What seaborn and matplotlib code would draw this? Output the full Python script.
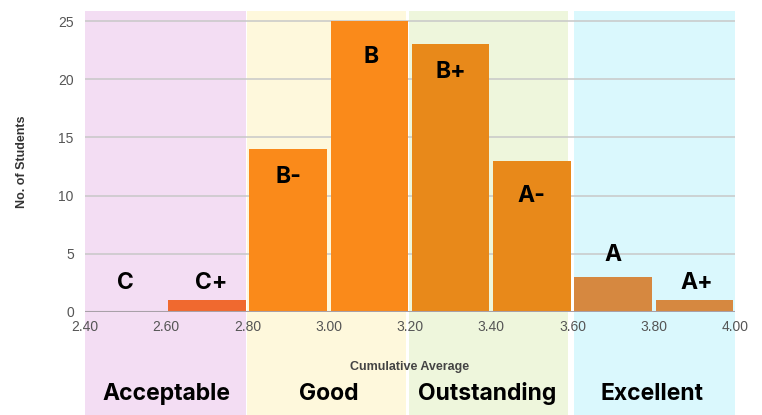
import matplotlib
matplotlib.use("Agg")
import matplotlib.pyplot as plt
import seaborn as sns
import pandas as pd
from matplotlib.patches import Rectangle

# ---- data ----
grades = ["C", "C+", "B-", "B", "B+", "A-", "A", "A+"]
bin_left = [2.40, 2.60, 2.80, 3.00, 3.20, 3.40, 3.60, 3.80]
counts = [0, 1, 14, 25, 23, 13, 3, 1]
bar_group = ["c", "cp", "good", "good", "out", "out", "exc", "exc"]
label_y = [2.5, 2.5, 11.6, 21.9, 20.6, 10.0, 4.9, 2.5]
label_dx = [0.0, 0.01, 0.0, 0.005, 0.0, 0.0, 0.0, 0.005]

bands = ["Acceptable", "Good", "Outstanding", "Excellent"]
band_ranges = [(2.40, 2.796), (2.80, 3.19), (3.198, 3.589), (3.604, 4.00)]
band_label_x = [2.60, 3.00, 3.39, 3.795]
band_colors = ["#F3DDF3", "#FEF8DC", "#EEF6DC", "#DAF8FD"]

xticks = [2.40, 2.60, 2.80, 3.00, 3.20, 3.40, 3.60, 3.80, 4.00]
yticks = [0, 5, 10, 15, 20, 25]

palette = {"c": "#F0692F", "cp": "#F0692F", "good": "#FA8A1A",
           "out": "#E8891A", "exc": "#D68840"}

df = pd.DataFrame({"mid": [b + 0.1 for b in bin_left], "count": counts,
                   "group": bar_group})

sns.set_theme(style="white")
plt.rcParams["font.family"] = ["Liberation Sans", "DejaVu Sans"]

fig = plt.figure(figsize=(7.62, 4.15), dpi=100)
ax = fig.add_axes([0.1115, 0.2482, 0.8531, 0.7253])

# background bands (extend below the axes to the figure bottom)
for (x0, x1), col in zip(band_ranges, band_colors):
    ax.add_patch(Rectangle((x0, -0.5), x1 - x0, 1.5, transform=ax.get_xaxis_transform(),
                           facecolor=col, edgecolor="none", clip_on=False, zorder=0))

for y in yticks[1:]:
    ax.axhline(y, color="#C8C8C8", lw=1.3, zorder=1, alpha=0.85)
ax.axhline(0, color="#A8A0A8", lw=1.5, zorder=3)

edges = bin_left + [bin_left[-1] + 0.2]
sns.histplot(data=df, x="mid", weights="count", hue="group", palette=palette,
             bins=edges, multiple="layer", shrink=0.955, alpha=1, linewidth=0,
             legend=False, ax=ax, zorder=2)

label_font = ["Inter", "DejaVu Sans"]
for g, bx, ly, dx in zip(grades, bin_left, label_y, label_dx):
    ax.text(bx + 0.1 + dx, ly, g, ha="center", va="center", fontsize=16.5,
            fontweight="bold", family=label_font, color="black", zorder=5)

for name, bx in zip(bands, band_label_x):
    ax.text(bx, -0.272, name, transform=ax.get_xaxis_transform(), ha="center",
            va="center", fontsize=16.5, fontweight="bold",
            family=label_font, color="black", zorder=5)

ax.set_xlim(2.40, 4.00)
ax.set_ylim(0, 25.86)
ax.set_xticks(xticks)
ax.set_xticklabels([f"{t:.2f}" for t in xticks])
ax.set_yticks(yticks)
ax.tick_params(axis="both", length=0, labelsize=10, labelcolor="#555555")
ax.tick_params(axis="x", pad=6)
ax.tick_params(axis="y", pad=8)
for s in ax.spines.values():
    s.set_visible(False)
ax.set_xlabel("Cumulative Average", fontsize=9, fontweight="bold", color="#444444",
              labelpad=19)
ax.set_ylabel("No. of Students", fontsize=9, fontweight="bold", color="#333333",
              labelpad=22)
ax.patch.set_alpha(0)

fig.savefig("out.png", dpi=100)
